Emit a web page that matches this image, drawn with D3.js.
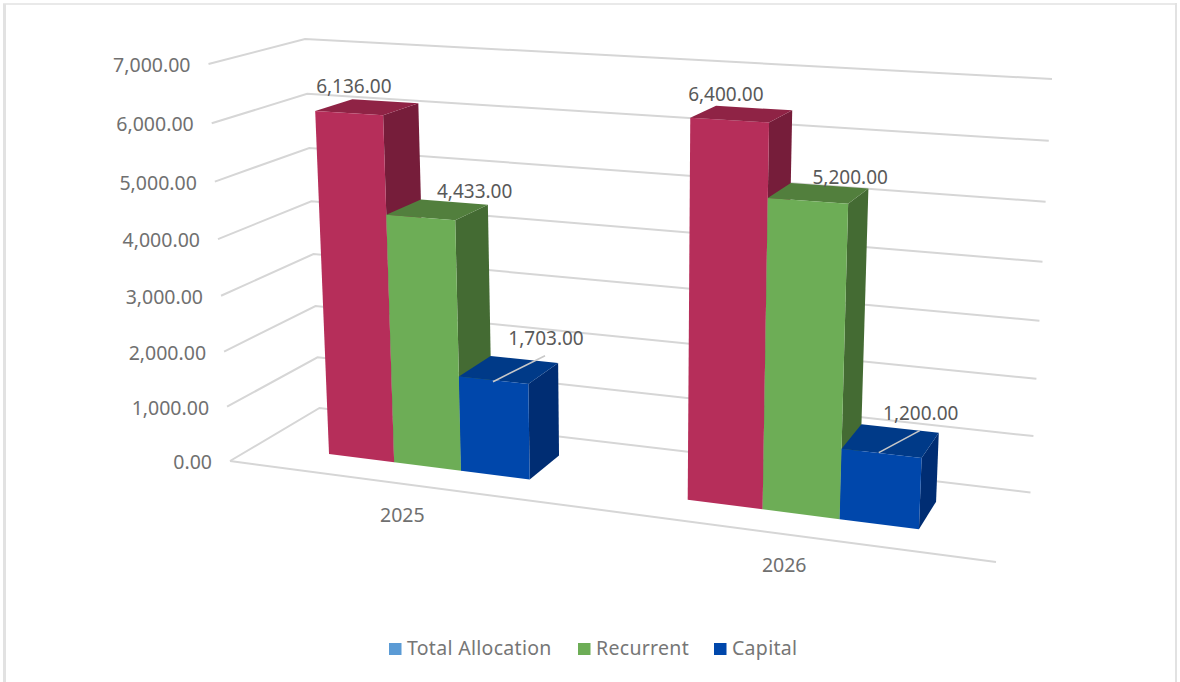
<!DOCTYPE html>
<html><head><meta charset="utf-8">
<style>html,body{margin:0;padding:0;background:#fff}svg{display:block}text{font-family:"Noto Sans",sans-serif}</style>
<script src="https://cdnjs.cloudflare.com/ajax/libs/d3/7.8.5/d3.min.js"></script>
</head><body><div id="c"></div>
<script>
const categories = ["2025", "2026"];
const seriesNames = ["Total Allocation", "Recurrent", "Capital"];
const totalAllocation = [6136, 6400];
const recurrent = [4433, 5200];
const capital = [1703, 1200];
const valueTicks = [0, 1000, 2000, 3000, 4000, 5000, 6000, 7000];
const faceColors = [
  {front:"#B62E5A", top:"#8F2345", side:"#761D3A"},
  {front:"#6DAD56", top:"#527F3D", side:"#446B33"},
  {front:"#0047AB", top:"#003A88", side:"#002D73"}
];
const legendColors = ["#5B9BD5", "#6DAD56", "#0047AB"];
// label offsets from each bar's projected top centre [series][category]
const labelOffsets = [[[-13.5,-21],[-16,-19.5]],[[37,-18],[31.5,-15.5]],[[37,-31],[30,-27]]];
const leaderOffsets = [[[-16,12],[36,-14]],[[-12,12],[29,-10]]];

const W = 1180, H = 682;
const svg = d3.select("#c").append("svg").attr("width", W).attr("height", H);

// perspective camera fitted to the visible corners of the chart box
const FL=[230,461], FR=[996,562], BR=[1030.5,492.5], BL=[319.5,408];
const FLt=[208.5,64], BLt=[305,39], BRt=[1052,79];
function floorMap(p0,p1,p2,p3){
  const dx1=p1[0]-p2[0],dx2=p3[0]-p2[0],sx=p0[0]-p1[0]+p2[0]-p3[0];
  const dy1=p1[1]-p2[1],dy2=p3[1]-p2[1],sy=p0[1]-p1[1]+p2[1]-p3[1];
  const den=dx1*dy2-dx2*dy1;
  const g=(sx*dy2-dx2*sy)/den, h=(dx1*sy-sx*dy1)/den;
  return {a:p1[0]-p0[0]+g*p1[0],b:p3[0]-p0[0]+h*p3[0],c:p0[0],
          d:p1[1]-p0[1]+g*p1[1],e:p3[1]-p0[1]+h*p3[1],f:p0[1],g,h};
}
const M=floorMap(FL,FR,BR,BL);
function solveVertical(){
  const rows=[];
  [[0,0,FLt],[0,1,BLt],[1,1,BRt]].forEach(([u,v,p])=>{
    const w0=M.g*u+M.h*v+1, x0=M.a*u+M.b*v+M.c, y0=M.d*u+M.e*v+M.f;
    rows.push([1,0,-p[0],p[0]*w0-x0]);
    rows.push([0,1,-p[1],p[1]*w0-y0]);
  });
  const A=[[0,0,0,0],[0,0,0,0],[0,0,0,0]];
  rows.forEach(r=>{for(let i=0;i<3;i++){for(let j=0;j<3;j++)A[i][j]+=r[i]*r[j];A[i][3]+=r[i]*r[3];}});
  for(let i=0;i<3;i++){
    let p=i;for(let k=i+1;k<3;k++)if(Math.abs(A[k][i])>Math.abs(A[p][i]))p=k;
    [A[i],A[p]]=[A[p],A[i]];
    for(let k=0;k<3;k++){if(k===i)continue;const m=A[k][i]/A[i][i];for(let j=i;j<4;j++)A[k][j]-=m*A[i][j];}
  }
  return [A[0][3]/A[0][0],A[1][3]/A[1][1],A[2][3]/A[2][2]];
}
const [vx,vy,vw]=solveVertical();
function camera(u,v,z){
  const w=M.g*u+M.h*v+1+vw*z;
  return [(M.a*u+M.b*v+M.c+vx*z)/w,(M.d*u+M.e*v+M.f+vy*z)/w];
}
// small residual so the three visible top corners land exactly on the box
const rFL=[FLt[0]-camera(0,0,1)[0],FLt[1]-camera(0,0,1)[1]];
const rBL=[BLt[0]-camera(0,1,1)[0],BLt[1]-camera(0,1,1)[1]];
const rBR=[BRt[0]-camera(1,1,1)[0],BRt[1]-camera(1,1,1)[1]];
function project(u,v,z){
  const p=camera(u,v,z);
  const wFL=(1-u)*(1-v),wBL=(1-u)*v,wBR=u*v;
  return [p[0]+z*(wFL*rFL[0]+wBL*rBL[0]+wBR*rBR[0]),p[1]+z*(wFL*rFL[1]+wBL*rBL[1]+wBR*rBR[1])];
}

const zScale=d3.scaleLinear().domain([0,7000]).range([0,1]);
const catBand=d3.scaleBand().domain(categories).range([0.0035,1.0035]).paddingInner(0.42).paddingOuter(0.21);
const serBand=d3.scaleBand().domain(seriesNames).range([0,catBand.bandwidth()*0.994]);
const depth=d3.scaleLinear().domain([0,1]).range([0.29,0.70]);
const line=d3.line();

// chart frame
const frame=svg.append("g").attr("fill","none").attr("stroke","#e2e2e2");
frame.append("path").attr("d","M4.5,682V4").attr("stroke-width",3);
frame.append("path").attr("d","M3,4H1177").attr("stroke-width",1.5);
frame.append("path").attr("d","M1176,3V682").attr("stroke-width",2);

// gridlines
const grid=svg.append("g").attr("fill","none");
function gridLine(pts){
  grid.append("path").attr("d",line(pts)).attr("stroke","#d6d6d6").attr("stroke-width",2);
}
valueTicks.forEach(t=>{
  const z=zScale(t);
  gridLine([project(0,0,z),project(0,1,z),project(1,1,z)]);
});
gridLine([project(0,0,0),project(1,0,0)]);

// axis labels
const fmt=d3.format(",.2f");
svg.append("g").selectAll("text").data(valueTicks).join("text")
  .attr("x",d=>project(0,0,zScale(d))[0]-18)
  .attr("y",d=>project(0,0,zScale(d))[1]+8)
  .attr("text-anchor","end").attr("font-size",19.5).attr("fill","#707070")
  .text(d=>fmt(d));
svg.append("g").selectAll("text").data(categories).join("text")
  .attr("x",d=>project(catBand(d)+catBand.bandwidth()/2,0,0)[0]-1.5)
  .attr("y",d=>project(catBand(d)+catBand.bandwidth()/2,0,0)[1]+38)
  .attr("text-anchor","middle").attr("font-size",19.5).attr("fill","#707070")
  .text(d=>d);

// bars
const seriesValues=[totalAllocation,recurrent,capital];
const bars=[];
categories.forEach((c,ci)=>seriesNames.forEach((s,si)=>{
  bars.push({c,ci,s,si,value:seriesValues[si][ci]});
}));
const barG=svg.append("g").selectAll("g").data(bars).join("g");
function corners(b){
  const u0=catBand(b.c)+serBand(b.s),u1=u0+serBand.bandwidth(),d0=depth(0),d1=depth(1),z=zScale(b.value);
  return {u0,u1,d0,d1,z};
}
barG.append("path").attr("fill",b=>faceColors[b.si].side).attr("d",b=>{const k=corners(b);
  return line([project(k.u1,k.d0,0),project(k.u1,k.d1,0),project(k.u1,k.d1,k.z),project(k.u1,k.d0,k.z)])+"Z";});
barG.append("path").attr("fill",b=>faceColors[b.si].top).attr("d",b=>{const k=corners(b);
  return line([project(k.u0,k.d0,k.z),project(k.u1,k.d0,k.z),project(k.u1,k.d1,k.z),project(k.u0,k.d1,k.z)])+"Z";});
barG.append("path").attr("fill",b=>faceColors[b.si].front).attr("d",b=>{const k=corners(b);
  return line([project(k.u0,k.d0,0),project(k.u1,k.d0,0),project(k.u1,k.d0,k.z),project(k.u0,k.d0,k.z)])+"Z";});

// labels with leaders
function topCentre(b){const k=corners(b);return project((k.u0+k.u1)/2,(k.d0+k.d1)/2,k.z);}
const labG=svg.append("g");
labG.selectAll("path").data(bars.filter(b=>b.si===2)).join("path")
  .attr("fill","none").attr("stroke","#c8c8c8").attr("stroke-width",1.6)
  .attr("d",b=>{const p=topCentre(b),o=leaderOffsets[b.ci];
    return line(o.map(q=>[p[0]+q[0],p[1]+q[1]]));});
labG.selectAll("text").data(bars).join("text")
  .attr("x",b=>topCentre(b)[0]+labelOffsets[b.si][b.ci][0])
  .attr("y",b=>topCentre(b)[1]+labelOffsets[b.si][b.ci][1]+6.5)
  .attr("text-anchor","middle").attr("font-size",19).attr("fill","#595959")
  .text(b=>fmt(b.value));

// legend
const legendX=[389,578,714];
const leg=svg.append("g").selectAll("g").data(seriesNames).join("g")
  .attr("transform",(d,i)=>`translate(${legendX[i]},643)`);
leg.append("rect").attr("width",12.5).attr("height",12).attr("fill",(d,i)=>legendColors[i]);
leg.append("text").attr("x",18).attr("y",12).attr("font-size",19.5).attr("letter-spacing",0.3).attr("fill","#767676").text(d=>d);
</script></body></html>
